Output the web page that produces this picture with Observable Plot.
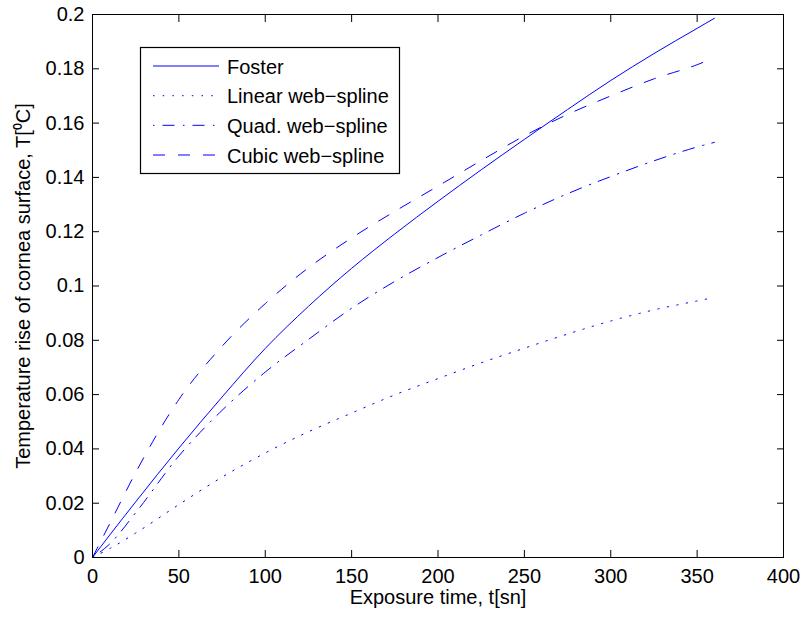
<!DOCTYPE html>
<html><head><meta charset="utf-8">
<script src="https://cdn.jsdelivr.net/npm/d3@7"></script>
<script src="https://cdn.jsdelivr.net/npm/@observablehq/plot@0.6"></script>
<style>
body{margin:0;background:#fff;}
#wrap{position:relative;width:803px;height:617px;font-family:"Liberation Sans",Arial,sans-serif;}
#legend{position:absolute;left:0;top:0;}
</style></head><body><div id="wrap"></div>
<script>
// Exposure time t [s]
const time   = [0, 10, 25, 50, 75, 100, 125, 150, 175, 200, 225, 250, 275, 300, 325, 350, 360];
const foster = [0, 0.0083, 0.0205, 0.0403, 0.0591, 0.0770, 0.0925, 0.1065, 0.1192, 0.1312, 0.1428, 0.1540, 0.1650, 0.1757, 0.1856, 0.1949, 0.1986];
const linear = [0, 0.0033, 0.0090, 0.0195, 0.0296, 0.0385, 0.0463, 0.0532, 0.0599, 0.0659, 0.0717, 0.0771, 0.0823, 0.0871, 0.0912, 0.0945, 0.0958];
const quad   = [0, 0.0050, 0.0165, 0.0374, 0.0542, 0.0683, 0.0803, 0.0918, 0.1017, 0.1105, 0.1188, 0.1268, 0.1340, 0.1403, 0.1461, 0.1512, 0.1529];
const cubic  = [0, 0.0125, 0.0313, 0.0582, 0.0778, 0.0935, 0.1067, 0.1177, 0.1275, 0.1368, 0.1462, 0.1553, 0.1632, 0.1700, 0.1763, 0.1815, 0.1841];

const seriesNames = ["Foster", "Linear web\u2212spline", "Quad. web\u2212spline", "Cubic web\u2212spline"];
const seriesValues = [foster, linear, quad, cubic];
const seriesDash = [null, "1.5,8.2", "1.5,8,12,8.5", "12,13"];

const xTicks = [0, 50, 100, 150, 200, 250, 300, 350, 400];
const yTicks = [0, 0.02, 0.04, 0.06, 0.08, 0.1, 0.12, 0.14, 0.16, 0.18, 0.2];

const xLabel = "Exposure time, t[sn]";
const yLabel = "Temperature rise of cornea surface, T[\u2070C]";

const FONT = '"Liberation Sans", Arial, sans-serif';
const BLUE = "#0000ff";

const rows = seriesNames.flatMap((name, k) => time.map((t, i) => ({t, v: seriesValues[k][i], name})));

const chart = Plot.plot({
  width: 803, height: 617,
  marginLeft: 92, marginRight: 20, marginTop: 14, marginBottom: 60,
  style: {fontFamily: FONT, fontSize: "20px", color: "black", background: "white"},
  x: {domain: [0, 400]},
  y: {domain: [0, 0.2]},
  marks: [
    ...seriesNames.map((name, k) => Plot.line(rows.filter(d => d.name === name), {
      x: "t", y: "v", stroke: BLUE, strokeWidth: 1,
      strokeDasharray: seriesDash[k] ?? undefined, curve: "monotone-x"
    })),
    Plot.frame({stroke: "black", strokeWidth: 1}),
    Plot.axisX({anchor: "bottom", ticks: xTicks, tickSize: -7, tickPadding: 18, fontSize: 20,
      tickFormat: d => String(d), label: xLabel, labelAnchor: "center", labelArrow: "none", labelOffset: 46}),
    Plot.axisX({anchor: "top", ticks: xTicks, tickSize: -7, tickFormat: () => "", label: null}),
    Plot.axisY({anchor: "left", ticks: yTicks, tickSize: -7, tickPadding: 15, fontSize: 20,
      tickFormat: d => String(d), label: yLabel, labelAnchor: "center", labelArrow: "none", labelOffset: 77}),
    Plot.axisY({anchor: "right", ticks: yTicks, tickSize: -7, tickFormat: () => "", label: null})
  ]
});

const wrap = document.getElementById("wrap");
wrap.appendChild(chart);

// Legend overlay
const ns = "http://www.w3.org/2000/svg";
const lg = document.createElementNS(ns, "svg");
lg.setAttribute("id", "legend");
lg.setAttribute("width", 803);
lg.setAttribute("height", 617);
const rect = document.createElementNS(ns, "rect");
rect.setAttribute("x", 140.5); rect.setAttribute("y", 47.5);
rect.setAttribute("width", 259); rect.setAttribute("height", 126);
rect.setAttribute("fill", "white"); rect.setAttribute("stroke", "black"); rect.setAttribute("stroke-width", 1.2);
lg.appendChild(rect);
const rowY = [66, 95.7, 125.3, 155];
seriesNames.forEach((name, k) => {
  const ln = document.createElementNS(ns, "line");
  ln.setAttribute("x1", 153); ln.setAttribute("x2", 219);
  ln.setAttribute("y1", rowY[k]); ln.setAttribute("y2", rowY[k]);
  ln.setAttribute("stroke", BLUE); ln.setAttribute("stroke-width", 1);
  if (seriesDash[k]) ln.setAttribute("stroke-dasharray", seriesDash[k]);
  lg.appendChild(ln);
  const tx = document.createElementNS(ns, "text");
  tx.setAttribute("x", 227); tx.setAttribute("y", rowY[k] + 7.5);
  tx.setAttribute("font-family", FONT); tx.setAttribute("font-size", 20);
  tx.setAttribute("fill", "black");
  tx.textContent = name;
  lg.appendChild(tx);
});
wrap.appendChild(lg);
</script>
</body></html>
